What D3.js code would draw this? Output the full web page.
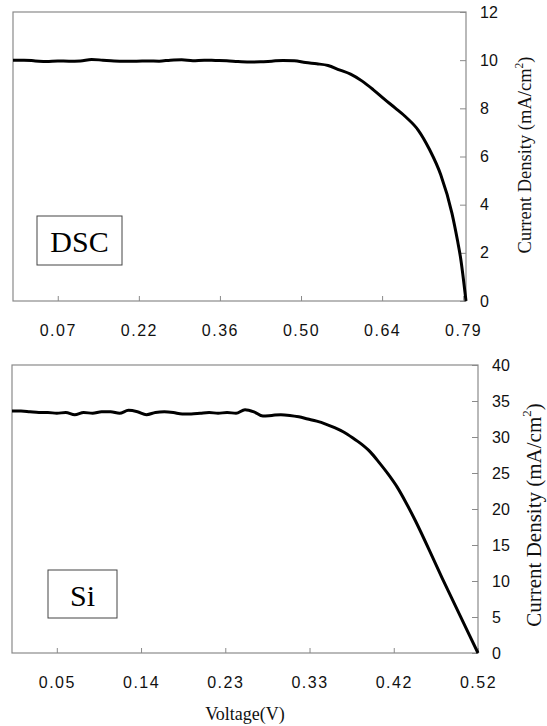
<!DOCTYPE html>
<html>
<head>
<meta charset="utf-8">
<script src="https://cdn.jsdelivr.net/npm/d3@7"></script>
<style>
  body { margin: 0; background: #fff; }
  svg { display: block; }
</style>
</head>
<body>
<svg id="chart" width="547" height="726"></svg>
<script>
// DSC cell: voltage (V) and current density (mA/cm2)
const dscV = [-0.0095, 0.01, 0.03, 0.05, 0.07, 0.09, 0.11, 0.13, 0.15, 0.17, 0.19, 0.21, 0.23, 0.25,
  0.27, 0.29, 0.31, 0.33, 0.35, 0.37, 0.39, 0.41, 0.43, 0.45, 0.47, 0.49, 0.51, 0.53, 0.55, 0.57,
  0.59, 0.61, 0.63, 0.65, 0.67, 0.69, 0.71, 0.73, 0.75, 0.77, 0.78, 0.785, 0.795];
const dscJ = [10.0, 10.0, 9.97, 9.94, 9.97, 9.96, 9.97, 10.03, 10.0, 9.97, 9.96, 9.96, 9.97, 9.96,
  10.0, 10.02, 9.98, 10.0, 9.99, 9.98, 9.94, 9.92, 9.93, 9.96, 9.99, 9.98, 9.9, 9.85, 9.78, 9.6,
  9.42, 9.14, 8.78, 8.38, 8.0, 7.6, 7.1, 6.3, 5.25, 3.65, 2.5, 1.85, 0];

// Si cell
const siV = [0, 0.01, 0.02, 0.03, 0.04, 0.05, 0.06, 0.07, 0.08, 0.09, 0.10, 0.11, 0.12, 0.13,
  0.14, 0.15, 0.16, 0.17, 0.18, 0.19, 0.20, 0.21, 0.22, 0.23, 0.24, 0.25, 0.26, 0.27, 0.28,
  0.29, 0.30, 0.31, 0.32, 0.33, 0.34, 0.35, 0.36, 0.37, 0.38, 0.39, 0.40, 0.41, 0.42, 0.43,
  0.44, 0.45, 0.46, 0.47, 0.48, 0.49, 0.50, 0.51, 0.52];
const siJ = [33.6, 33.6, 33.5, 33.4, 33.4, 33.3, 33.4, 33.1, 33.4, 33.3, 33.5, 33.5, 33.3, 33.7,
  33.5, 33.1, 33.4, 33.5, 33.4, 33.2, 33.2, 33.3, 33.4, 33.3, 33.4, 33.3, 33.8, 33.5, 32.9,
  33.0, 33.1, 33.0, 32.8, 32.5, 32.2, 31.8, 31.3, 30.7, 29.9, 29.0, 27.9, 26.4, 24.8, 23.0,
  20.8, 18.4, 15.8, 13.1, 10.4, 7.8, 5.2, 2.6, 0];

const dscXTicks = ["0.07", "0.22", "0.36", "0.50", "0.64", "0.79"];
const dscYTicks = [0, 2, 4, 6, 8, 10, 12];
const siXTicks = ["0.05", "0.14", "0.23", "0.33", "0.42", "0.52"];
const siYTicks = [0, 5, 10, 15, 20, 25, 30, 35, 40];

const svg = d3.select("#chart");
const serif = "'Liberation Serif', 'Times New Roman', serif";
const sans = "'Liberation Sans', Arial, sans-serif";
const axisColor = "#8a8a8a";

function drawPanel(p) {
    const x = d3.scaleLinear().domain(p.xDomain).range([p.left, p.right]);
    const y = d3.scaleLinear().domain([0, p.yMax]).range([p.bottom, p.top]);
    // evenly spaced category-like tick labels, as in the original plot
    const xt = d3.scalePoint().domain(p.xTicks)
        .range([x(+p.xTicks[0]), x(+p.xTicks[p.xTicks.length - 1])]);

    svg.append("rect")
        .attr("x", p.left).attr("y", p.top)
        .attr("width", p.right - p.left).attr("height", p.bottom - p.top)
        .attr("fill", "none").attr("stroke", axisColor).attr("stroke-width", 1.2);

    const gx = svg.append("g")
        .attr("transform", `translate(0,${p.bottom})`)
        .call(d3.axisBottom(xt).tickSize(-5));
    gx.select(".domain").remove();
    gx.selectAll("line").attr("stroke", axisColor);
    gx.selectAll("text")
        .attr("y", 29).attr("dy", "0.35em")
        .attr("fill", "#111")
        .style("font-family", sans).style("font-size", "16px").style("letter-spacing", "1.5px");

    const gy = svg.append("g")
        .attr("transform", `translate(${p.right},0)`)
        .call(d3.axisRight(y).tickValues(p.yTicks).tickSize(-6).tickPadding(14));
    gy.select(".domain").remove();
    gy.selectAll("line").attr("stroke", axisColor);
    gy.selectAll("text")
        .attr("fill", "#111")
        .style("font-family", sans).style("font-size", "16px");

    const pts = p.V.map((v, i) => ({ v: v, j: p.J[i] }));
    svg.append("path")
        .datum(pts)
        .attr("fill", "none")
        .attr("stroke", "#000")
        .attr("stroke-width", 3)
        .attr("stroke-linejoin", "round")
        .attr("d", d3.line().x(d => x(d.v)).y(d => y(d.j)).curve(d3.curveMonotoneX));

    // legend box
    svg.append("rect")
        .attr("x", p.box[0]).attr("y", p.box[1]).attr("width", p.box[2]).attr("height", p.box[3])
        .attr("fill", "#fff").attr("stroke", "#444").attr("stroke-width", 1);
    svg.append("text")
        .attr("x", p.box[0] + p.box[2] / 2).attr("y", p.box[1] + p.box[3] / 2 + 1)
        .attr("text-anchor", "middle").attr("dominant-baseline", "central")
        .style("font-family", serif).style("font-size", "30px")
        .text(p.name);

    // y axis title
    const t = svg.append("text")
        .attr("transform", `translate(${p.labelX},${p.labelY}) rotate(-90)`)
        .attr("text-anchor", "middle").attr("dominant-baseline", "central")
        .style("font-family", serif).style("font-size", p.labelSize + "px")
        .attr("fill", "#111");
    t.append("tspan").text("Current Density (mA/cm");
    t.append("tspan").attr("baseline-shift", "super").style("font-size", "62%").text("2");
    t.append("tspan").text(")");
}

drawPanel({
    name: "DSC", V: dscV, J: dscJ, xDomain: [-0.0095, 0.795], yMax: 12,
    xTicks: dscXTicks, yTicks: dscYTicks,
    left: 13, right: 466, top: 12, bottom: 301,
    box: [37, 216, 85, 49], labelX: 525, labelY: 155, labelSize: 18.5
});

drawPanel({
    name: "Si", V: siV, J: siJ, xDomain: [0, 0.52], yMax: 40,
    xTicks: siXTicks, yTicks: siYTicks,
    left: 12, right: 478, top: 365, bottom: 653,
    box: [48, 570, 69, 48], labelX: 534, labelY: 515, labelSize: 21
});

svg.append("text")
    .attr("x", 245).attr("y", 714)
    .attr("text-anchor", "middle").attr("dominant-baseline", "central")
    .style("font-family", serif).style("font-size", "18px")
    .attr("fill", "#111")
    .text("Voltage(V)");
</script>
</body>
</html>
